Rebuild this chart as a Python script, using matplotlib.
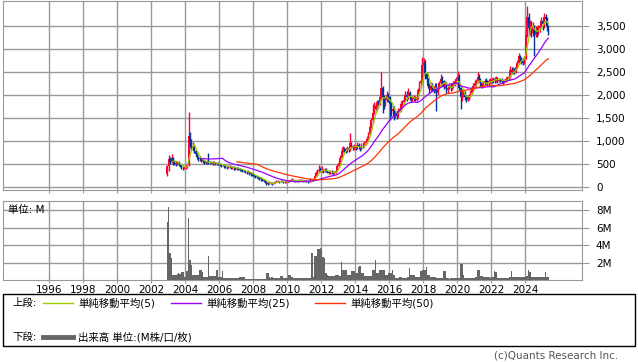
import numpy as np
import pandas as pd
import matplotlib
matplotlib.use('Agg')
import matplotlib.pyplot as plt
from matplotlib.lines import Line2D
from matplotlib.patches import Rectangle

plt.rcParams['font.family'] = ['DejaVu Sans', 'Noto Sans CJK JP']

#------------------------------------------- data -------------------------------------------#
# monthly candles, first month = Dec 2002
start_year, start_month = 2002, 12
first_open = 280

close = [
    450,
    600, 540, 640, 560, 520, 510, 540, 500, 470, 420, 410, 430,
    440, 470, 1100, 1000, 860, 900, 780, 720, 650, 600, 620, 580,
    560, 540, 520, 550, 530, 520, 540, 510, 530, 500, 520, 500,
    490, 470, 480, 450, 440, 430, 450, 440, 420, 430, 410, 400,
    410, 390, 380, 370, 360, 350, 330, 320, 330, 300, 280, 260,
    250, 230, 220, 200, 190, 170, 150, 140, 120, 80, 70, 90,
    80, 70, 90, 110, 130, 120, 110, 130, 120, 110, 100, 110,
    120, 130, 150, 160, 140, 130, 140, 130, 140, 150, 140, 130,
    130, 120, 110, 120, 150, 140, 160, 250, 300, 340, 380, 360,
    370, 340, 390, 360, 330, 310, 330, 320, 300, 310, 350, 450,
    520, 640, 780, 850, 820, 780, 850, 800, 950, 900, 850, 880,
    850, 920, 860, 830, 900, 880, 950, 980, 1050, 1150, 1300, 1450,
    1600, 1750, 1700, 1850, 1800, 1950, 2150, 1950, 1800, 1900, 2000, 1950,
    1800, 1650, 1700, 1550, 1600, 1550, 1650, 1700, 1800, 1850, 1900, 2000,
    1950, 2050, 1950, 1900, 1920, 1950, 1900, 1950, 2100, 2250, 2300, 2650,
    2700, 2450, 2350, 2200, 2100, 2200, 2150, 2100, 2200, 2050, 2150, 2250,
    2350, 2300, 2200, 2250, 2100, 2150, 2200, 2150, 2200, 2250, 2300, 2350,
    2400, 2150, 1950, 2000, 2050, 1950, 1900, 1950, 1980, 2050, 2150, 2200,
    2250, 2300, 2400, 2350, 2250, 2200, 2250, 2300, 2280, 2250, 2300, 2320,
    2300, 2350, 2320, 2380, 2300, 2350, 2330, 2300, 2280, 2320, 2350, 2380,
    2400, 2550, 2500, 2550, 2500, 2600, 2700, 2850, 2800, 2750, 2700, 2800,
    3300, 3700, 3450, 3550, 3350, 3500, 3300, 3400, 3350, 3450, 3500, 3600,
    3550, 3700, 3650, 3500, 3350,
]

high = [
    480,
    690, 650, 720, 650, 580, 560, 570, 560, 520, 480, 450, 460,
    480, 520, 1640, 1200, 1050, 980, 920, 800, 740, 680, 680, 640,
    600, 580, 560, 580, 740, 560, 570, 560, 560, 540, 540, 540,
    530, 510, 510, 500, 470, 460, 480, 470, 460, 450, 450, 430,
    440, 430, 410, 400, 390, 380, 370, 350, 360, 340, 320, 300,
    290, 270, 250, 240, 220, 210, 190, 170, 160, 130, 100, 120,
    110, 100, 110, 130, 150, 150, 140, 150, 150, 140, 130, 130,
    150, 160, 180, 190, 180, 160, 160, 160, 170, 180, 170, 160,
    160, 150, 140, 150, 190, 180, 200, 300, 350, 400, 480, 440,
    450, 400, 420, 410, 380, 350, 360, 360, 340, 340, 380, 490,
    580, 700, 860, 900, 880, 850, 900, 870, 1170, 980, 920, 930,
    920, 980, 950, 900, 950, 940, 1000, 1030, 1100, 1200, 1350, 1500,
    1800, 1850, 1820, 1900, 1900, 2000, 2500, 2190, 2000, 1980, 2080, 2050,
    1980, 1850, 1780, 1750, 1680, 1660, 1720, 1760, 1860, 1900, 1960, 2080,
    2080, 2150, 2080, 1980, 1980, 2000, 1980, 2000, 2150, 2300, 2350, 2820,
    2800, 2750, 2500, 2380, 2250, 2280, 2250, 2200, 2260, 2250, 2200, 2300,
    2450, 2420, 2330, 2300, 2280, 2220, 2260, 2250, 2260, 2300, 2350, 2400,
    2520, 2450, 2200, 2100, 2120, 2080, 2000, 2000, 2020, 2100, 2200, 2260,
    2330, 2350, 2510, 2450, 2380, 2280, 2300, 2340, 2360, 2320, 2340, 2380,
    2380, 2400, 2400, 2420, 2390, 2380, 2380, 2360, 2330, 2350, 2400, 2420,
    2440, 2620, 2600, 2600, 2580, 2640, 2760, 2910, 2880, 2820, 2780, 2850,
    3420, 3930, 3780, 3640, 3600, 3580, 3520, 3500, 3480, 3520, 3560, 3700,
    3650, 3780, 3760, 3700, 3520,
]

low = [
    240,
    350, 500, 520, 470, 480, 460, 470, 460, 430, 390, 380, 390,
    400, 420, 450, 880, 800, 820, 740, 680, 600, 560, 560, 540,
    520, 500, 490, 500, 500, 490, 500, 480, 490, 470, 480, 470,
    460, 440, 450, 420, 410, 400, 410, 410, 390, 400, 380, 370,
    370, 360, 350, 340, 330, 320, 300, 290, 300, 270, 250, 230,
    220, 200, 190, 170, 160, 140, 130, 110, 90, 50, 50, 60,
    60, 50, 60, 80, 100, 100, 90, 100, 100, 90, 80, 90,
    100, 110, 120, 130, 120, 110, 120, 110, 120, 130, 120, 110,
    110, 100, 90, 100, 110, 120, 130, 150, 240, 280, 320, 320,
    330, 310, 330, 320, 300, 280, 290, 290, 280, 280, 300, 340,
    440, 500, 620, 760, 760, 730, 760, 760, 780, 850, 800, 800,
    800, 830, 820, 780, 810, 840, 870, 920, 960, 1030, 1120, 1280,
    1400, 1580, 1620, 1680, 1720, 1780, 1900, 1600, 1700, 1750, 1850, 1850,
    1450, 1550, 1600, 1450, 1500, 1470, 1520, 1620, 1660, 1750, 1800, 1880,
    1880, 1920, 1900, 1850, 1860, 1880, 1860, 1880, 1920, 2080, 2180, 2250,
    2500, 2350, 2250, 2150, 2040, 2080, 2080, 2040, 2060, 1650, 2000, 2120,
    2200, 2200, 2120, 2150, 2050, 2050, 2120, 2080, 2100, 2160, 2200, 2250,
    2300, 2100, 1700, 1880, 1950, 1900, 1840, 1860, 1900, 1950, 2020, 2100,
    2150, 2200, 2250, 2280, 2190, 2150, 2180, 2220, 2230, 2200, 2220, 2260,
    2260, 2260, 2270, 2290, 2260, 2280, 2290, 2260, 2240, 2250, 2290, 2320,
    2330, 2380, 2450, 2460, 2450, 2480, 2580, 2680, 2720, 2680, 2650, 2680,
    2780, 3250, 3300, 3300, 3270, 3280, 2840, 3250, 3270, 3300, 3380, 3450,
    3420, 3450, 3550, 3400, 3310,
]

# volume in millions
volume = [
    6.6,
    8.3, 3.1, 2.5, 0.6, 0.6, 0.6, 0.7, 0.8, 0.7, 0.9, 0.9, 0.4,
    0.4, 1.0, 7.1, 2.3, 1.7, 0.6, 0.6, 0.6, 0.6, 0.6, 1.1, 1.1,
    0.9, 0.4, 0.4, 0.4, 2.8, 0.5, 0.5, 0.5, 0.5, 0.5, 1.1, 0.4,
    0.4, 0.4, 1.0, 0.2, 0.2, 0.2, 0.2, 0.2, 0.2, 0.2, 0.2, 0.2,
    0.2, 0.2, 0.3, 0.3, 0.3, 0.3, 0.1, 0.1, 0.1, 0.1, 0.1, 0.1,
    0.1, 0.1, 0.1, 0.1, 0.1, 0.1, 0.1, 0.1, 0.1, 0.8, 0.8, 0.3,
    0.2, 0.3, 0.2, 0.2, 0.2, 0.2, 0.2, 0.45, 0.45, 0.2, 0.2, 0.2,
    0.2, 0.55, 0.55, 0.3, 0.2, 0.2, 0.2, 0.2, 0.2, 0.2, 0.2, 0.2,
    0.2, 0.2, 0.2, 0.2, 0.2, 3.1, 0.4, 2.8, 2.8, 3.5, 3.5, 3.7,
    3.6, 2.6, 2.5, 0.8, 0.6, 0.5, 0.5, 0.5, 0.5, 0.5, 0.6, 0.6,
    0.6, 0.5, 2.1, 1.1, 1.1, 1.1, 0.6, 0.6, 0.6, 1.0, 1.0, 1.0,
    0.8, 0.75, 1.5, 1.6, 0.8, 0.8, 0.5, 0.5, 0.45, 0.45, 0.45, 0.45,
    1.1, 1.1, 2.3, 0.75, 0.75, 1.2, 1.2, 1.2, 1.2, 0.55, 0.55, 0.75,
    0.75, 0.75, 1.2, 0.55, 0.2, 0.2, 0.2, 0.4, 0.4, 0.2, 0.2, 0.2,
    0.2, 0.3, 1.4, 0.55, 0.55, 0.55, 0.3, 0.3, 0.3, 0.3, 1.0, 1.1,
    1.1, 1.1, 1.5, 0.55, 0.55, 0.4, 0.4, 0.4, 0.4, 0.2, 0.2, 0.2,
    0.2, 0.25, 1.0, 1.0, 0.2, 0.2, 0.15, 0.2, 0.2, 0.2, 0.25, 0.2,
    0.2, 0.25, 1.8, 1.8, 0.55, 0.2, 0.2, 0.2, 0.25, 0.2, 0.2, 0.2,
    0.2, 0.3, 1.1, 1.1, 0.45, 0.45, 0.3, 0.3, 0.3, 0.3, 0.3, 0.25,
    0.3, 0.3, 1.0, 0.9, 0.25, 0.25, 0.25, 0.2, 0.25, 0.25, 0.25, 0.25,
    0.25, 0.3, 1.05, 0.4, 0.3, 0.3, 0.3, 0.35, 0.3, 0.3, 0.3, 0.35,
    0.4, 0.45, 1.1, 0.9, 0.3, 0.3, 0.35, 0.3, 0.3, 0.3, 0.3, 0.3,
    0.3, 0.3, 0.95, 0.4, 0.3,
]

price_ticks = [0, 500, 1000, 1500, 2000, 2500, 3000, 3500]
vol_ticks = [2, 4, 6, 8]
years = list(range(1996, 2025, 2))

ma_periods = [5, 25, 50]
ma_colors = ['#99cc00', '#9900ff', '#ff3300']
ma_labels = ['単純移動平均(5)', '単純移動平均(25)', '単純移動平均(50)']

up_color = '#ff0033'
down_color = '#003399'
grid_color = '#999999'

#------------------------------------------- prep -------------------------------------------#
W, H = 638, 362
def fx(px):
    return px / W
def fy(py):
    return 1 - py / H

n = len(close)
x = start_year + (start_month - 0.5) / 12 + np.arange(n) / 12
c = np.array(close, float)
o = np.concatenate([[first_open], c[:-1]])
hi = np.maximum(np.array(high, float), np.maximum(o, c))
lo = np.minimum(np.array(low, float), np.minimum(o, c))
colors = np.where(c >= o, up_color, down_color)

xmin = 1996 + (3 - 49) / 17
xmax = 1996 + (582 - 49) / 17

#------------------------------------------- plot -------------------------------------------#
fig = plt.figure(figsize=(W / 100, H / 100), dpi=100)
ax = fig.add_axes([fx(3), fy(190), fx(582) - fx(3), fy(0.5) - fy(190)])
ax2 = fig.add_axes([fx(3), fy(280), fx(582) - fx(3), fy(201) - fy(280)])

for a in (ax, ax2):
    a.set_xlim(xmin, xmax)
    a.set_xticks(years)
    a.grid(True, color=grid_color, lw=1)
    a.set_axisbelow(True)
    for s in a.spines.values():
        s.set_color(grid_color)
    a.tick_params(axis='y', left=False, right=True, labelleft=False, labelright=True,
                  length=5, color=grid_color, labelsize=7.5, pad=5)
    a.tick_params(axis='x', length=2, color=grid_color, labelsize=7.5, pad=1.5)

# candles
ax.vlines(x, lo, hi, colors=colors, lw=1.0, zorder=2)
body = np.maximum(np.abs(c - o), 12)
ax.bar(x, body, bottom=np.minimum(o, c), width=0.1, color=colors, lw=0, zorder=3)

s = pd.Series(c)
for p, col in zip(ma_periods, ma_colors):
    ax.plot(x, s.rolling(p).mean(), color=col, lw=0.9, zorder=4)

ax.set_ylim(-65, 4054)
ax.set_yticks(price_ticks)
ax.set_yticklabels(['{:,}'.format(v) for v in price_ticks])
ax.tick_params(axis='x', labelbottom=False)

# volume
ax2.bar(x, volume, width=1 / 12, color='#666666', lw=0)
ax2.set_ylim(0, 9.03)
ax2.set_yticks(vol_ticks)
ax2.set_yticklabels(['%dM' % v for v in vol_ticks])
ax2.set_xticklabels([str(y) for y in years])
fig.text(fx(8), fy(210), '単位: M', fontsize=7.5, va='center')

# legend box
fig.add_artist(Rectangle((fx(3), fy(346)), fx(635) - fx(3), fy(294) - fy(346),
                         transform=fig.transFigure, fill=False, ec='black', lw=1))
fig.text(fx(12), fy(303), '上段:', fontsize=7.5, va='center')
fig.text(fx(12), fy(337), '下段:', fontsize=7.5, va='center')
for x0, col, lab in zip([43, 171, 315], ma_colors, ma_labels):
    fig.add_artist(Line2D([fx(x0), fx(x0 + 30)], [fy(303), fy(303)], color=col, lw=1,
                          transform=fig.transFigure))
    fig.text(fx(x0 + 35), fy(303), lab, fontsize=7.5, va='center')
fig.add_artist(Line2D([fx(43), fx(73)], [fy(337), fy(337)], color='#666666', lw=3.5,
                      transform=fig.transFigure))
fig.text(fx(78), fy(337), '出来高 単位:(M株/口/枚)', fontsize=7.5, va='center')

fig.text(fx(618), fy(356), '(c)Quants Research Inc.', fontsize=7.5, ha='right',
         va='center', color='#555555')

fig.savefig('out.png', dpi=100)
